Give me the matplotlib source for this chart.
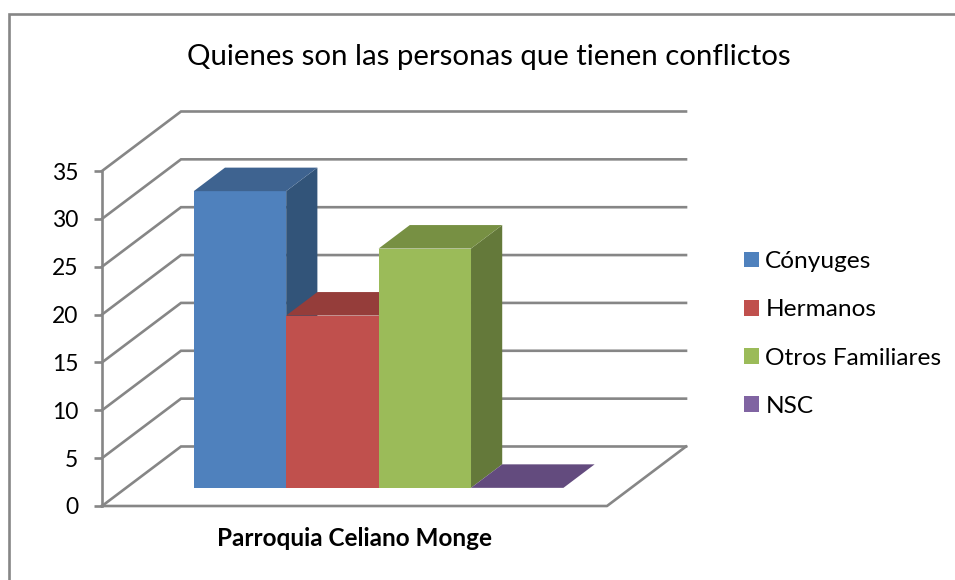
import matplotlib
matplotlib.use('Agg')
import matplotlib.pyplot as plt
from matplotlib.lines import Line2D
from matplotlib.patches import Patch, Polygon

plt.rcParams['font.family'] = ['Lato', 'DejaVu Sans']

title = 'Quienes son las personas que tienen conflictos'
category = 'Parroquia Celiano Monge'
series = ['Cónyuges', 'Hermanos', 'Otros Familiares', 'NSC']
values = [31, 18, 25, 0]
y_ticks = [0, 5, 10, 15, 20, 25, 30, 35]

front_colors = ['#4F81BD', '#C0504D', '#9BBB59', '#8064A2']
top_colors = ['#3E6390', '#953D3A', '#779043', '#634B7E']
side_colors = ['#325479', '#7E3432', '#64793A', '#53406B']
line_color = '#868686'

W, H = 955, 580

# depth of the fake 3d box, in data units of the front plane
depth_x = 79 / 505
depth_y = 59.5 / 9.57
# bars sit between these fractions of the depth
bar_near, bar_far = 0.305, 0.70
gap = 0.134


def shift(x, y, d):
    return (x + d * depth_x, y + d * depth_y)


fig = plt.figure(figsize=(W / 100, H / 100), dpi=100)
# only the top and left edges of the chart frame are inside the picture
fig.add_artist(Line2D([8.5 / W, 8.5 / W, 1], [0, 1 - 13.5 / H, 1 - 13.5 / H], color=line_color, lw=1.9,
                      solid_joinstyle='miter'))

ax = fig.add_axes([102 / W, 1 - 506 / H, 505 / W, 335 / H])
ax.set_xlim(0, 1)
ax.set_ylim(0, 35)
ax.patch.set_visible(False)
for s in ['top', 'right', 'bottom']:
    ax.spines[s].set_visible(False)
ax.spines['left'].set_color(line_color)
ax.spines['left'].set_linewidth(1.9)

# walls and floor
for v in y_ticks:
    p = [(0, v), shift(0, v, 1), shift(1, v, 1)]
    ax.plot(*zip(*p), color=line_color, lw=1.9, clip_on=False, zorder=1, solid_joinstyle='miter')
floor = [(0, 0), (1, 0), shift(1, 0, 1)]
ax.plot(*zip(*floor), color=line_color, lw=1.9, clip_on=False, zorder=1)

# bars
bar_w = (1 - 2 * gap) / len(values)
for i, v in enumerate(values):
    x0 = gap + i * bar_w
    x1 = x0 + bar_w
    a, b = shift(x0, 0, bar_near), shift(x1, 0, bar_near)
    c, d = shift(x1, v, bar_near), shift(x0, v, bar_near)
    e, f = shift(x1, v, bar_far), shift(x0, v, bar_far)
    g = shift(x1, 0, bar_far)
    ax.add_patch(Polygon([b, g, e, c], color=side_colors[i], lw=0, clip_on=False, zorder=2 + i))
    ax.add_patch(Polygon([a, b, c, d], color=front_colors[i], lw=0, clip_on=False, zorder=2 + i))
    ax.add_patch(Polygon([d, c, e, f], color=top_colors[i], lw=0, clip_on=False, zorder=2 + i))

ax.set_yticks(y_ticks)
ax.tick_params(axis='y', length=6, width=1.9, color=line_color, labelsize=16.5, pad=11, labelcolor='black')
ax.set_xticks([0.5])
ax.set_xticklabels([category], fontsize=17.5, fontweight='bold')
ax.tick_params(axis='x', length=0, pad=15)

fig.text(489 / W, 1 - 57 / H, title, fontsize=21.2, ha='center', va='center')

handles = [Patch(facecolor=c, edgecolor='none', label=s) for c, s in zip(front_colors, series)]
fig.legend(handles=handles, loc='center left', bbox_to_anchor=(744 / W, 1 - 334 / H), frameon=False,
           fontsize=17.6, handlelength=0.62, handleheight=0.62, handletextpad=0.25, labelspacing=1.115,
           borderpad=0, borderaxespad=0)

fig.savefig('out.png', dpi=100)
